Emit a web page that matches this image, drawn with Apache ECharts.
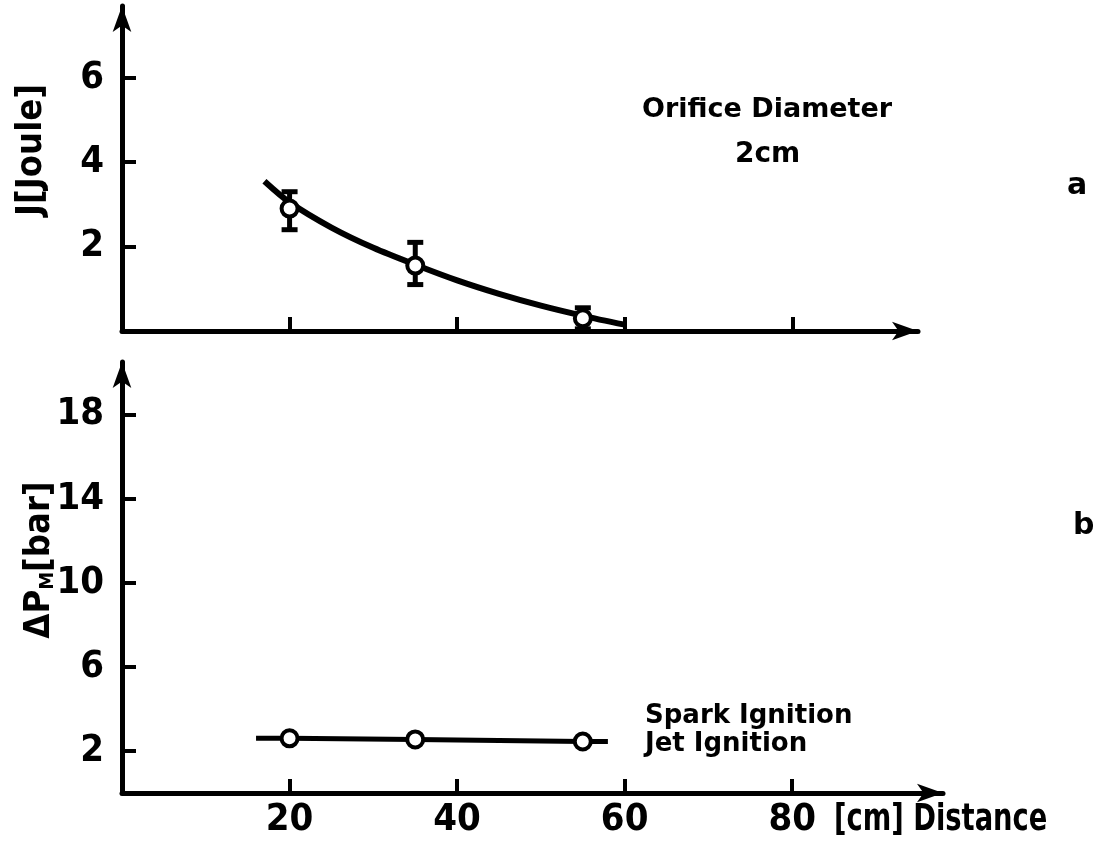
<!DOCTYPE html>
<html>
	<head>
		<meta charset="UTF-8">
		<title>Orifice Diameter 2cm</title>
		<script src="https://cdn.jsdelivr.net/npm/echarts@6/dist/echarts.min.js"></script>
		<style>
			html, body { margin: 0; padding: 0; background: #fff; }
			#chart { width: 1093px; height: 841px; }
		</style>
	</head>
	<body>
		<div id="chart"></div>
		<script>
			// 测量点 (cm)
			var distance = [20, 35, 55];
			// a: 点火能量 J (Joule) 及误差范围
			var energy = [2.9, 1.55, 0.3];
			var energyLow = [2.4, 1.1, 0.05];
			var energyHigh = [3.3, 2.1, 0.55];
			// a: 拟合曲线
			var fitX = [17, 20, 25, 30, 35, 40, 45, 50, 55, 60];
			var fitJ = [3.55, 3.05, 2.45, 1.97, 1.57, 1.2, 0.88, 0.6, 0.36, 0.15];
			// b: 压力 ΔP_M (bar)
			var pressure = [2.6, 2.55, 2.45];
			var lineX = [16, 20, 35, 55, 58];
			var lineP = [2.6, 2.6, 2.55, 2.45, 2.45];
			// 刻度
			var xTicks = [20, 40, 60, 80];
			var jTicks = [2, 4, 6];
			var pTicks = [2, 6, 10, 14, 18];

			var ink = '#000';
			var numFont = 'DejaVu Sans Condensed';

			function pairs(xs, ys) {
				return xs.map(function (x, i) { return [x, ys[i]]; });
			}

			var axisLine = {
				show: true,
				symbol: ['none', 'arrow'],
				symbolSize: [14, 26],
				lineStyle: { color: ink, width: 5 }
			};
			var tick = { show: true, inside: true, length: 14, lineStyle: { color: ink, width: 4 } };
			var numLabel = { color: ink, fontFamily: numFont, fontWeight: 'bold', fontSize: 38 };
			var marker = { color: '#fff', borderColor: ink, borderWidth: 4, opacity: 1 };

			var myChart = echarts.init(document.getElementById('chart'));

			var option = {
				animation: false,
				backgroundColor: '#fff',
				grid: [
					{ left: 122, top: 6, width: 796, height: 325 },
					{ left: 122, top: 362, width: 821, height: 431 }
				],
				xAxis: [{
					gridIndex: 0, type: 'value', min: 0, max: 95,
					axisLine: axisLine,
					axisTick: Object.assign({ customValues: xTicks }, tick),
					axisLabel: { show: false },
					splitLine: { show: false }
				}, {
					gridIndex: 1, type: 'value', min: 0, max: 98,
					axisLine: axisLine,
					axisTick: Object.assign({ customValues: xTicks }, tick),
					axisLabel: Object.assign({ customValues: xTicks, margin: 8 }, numLabel),
					splitLine: { show: false }
				}],
				yAxis: [{
					gridIndex: 0, type: 'value', min: 0, max: 7.7,
					axisLine: axisLine,
					axisTick: Object.assign({ customValues: jTicks }, tick),
					axisLabel: Object.assign({ customValues: jTicks, margin: 18 }, numLabel),
					splitLine: { show: false }
				}, {
					gridIndex: 1, type: 'value', min: 0, max: 20.5,
					axisLine: axisLine,
					axisTick: Object.assign({ customValues: pTicks }, tick),
					axisLabel: Object.assign({ customValues: pTicks, margin: 18 }, numLabel),
					splitLine: { show: false }
				}],
				series: [{
					// 拟合曲线
					type: 'line', xAxisIndex: 0, yAxisIndex: 0,
					data: pairs(fitX, fitJ),
					smooth: 0.3, showSymbol: false,
					lineStyle: { color: ink, width: 6 }
				}, {
					// 误差棒
					type: 'custom', xAxisIndex: 0, yAxisIndex: 0,
					data: distance.map(function (x, i) { return [x, energyLow[i], energyHigh[i]]; }),
					renderItem: function (params, api) {
						var lo = api.coord([api.value(0), api.value(1)]);
						var hi = api.coord([api.value(0), api.value(2)]);
						var cap = 8;
						var st = { stroke: ink, lineWidth: 5 };
						return {
							type: 'group',
							children: [
								{ type: 'line', shape: { x1: lo[0], y1: lo[1], x2: hi[0], y2: hi[1] }, style: st },
								{ type: 'line', shape: { x1: lo[0] - cap, y1: lo[1], x2: lo[0] + cap, y2: lo[1] }, style: st },
								{ type: 'line', shape: { x1: hi[0] - cap, y1: hi[1], x2: hi[0] + cap, y2: hi[1] }, style: st }
							]
						};
					},
					z: 3
				}, {
					type: 'scatter', xAxisIndex: 0, yAxisIndex: 0,
					data: pairs(distance, energy),
					symbol: 'circle', symbolSize: 16,
					itemStyle: marker,
					z: 5
				}, {
					type: 'line', xAxisIndex: 1, yAxisIndex: 1,
					data: pairs(lineX, lineP),
					showSymbol: false,
					lineStyle: { color: ink, width: 5 }
				}, {
					type: 'scatter', xAxisIndex: 1, yAxisIndex: 1,
					data: pairs(distance, pressure),
					symbol: 'circle', symbolSize: 16,
					itemStyle: marker,
					z: 5
				}],
				graphic: [{
					type: 'text', x: 32, y: 150, rotation: Math.PI / 2,
					style: { text: 'J[Joule]', fill: ink, font: 'bold 36px "DejaVu Sans Condensed"', align: 'center', verticalAlign: 'middle' }
				}, {
					type: 'text', x: 40, y: 560, rotation: Math.PI / 2,
					style: {
						text: '{a|ΔP}{s|M}{a|[bar]}',
						fill: ink, align: 'center', verticalAlign: 'middle',
						rich: {
							a: { font: 'bold 36px "DejaVu Sans Condensed"', fill: ink },
							s: { font: 'bold 20px "DejaVu Sans Condensed"', fill: ink, verticalAlign: 'bottom', padding: [14, 0, 0, 0] }
						}
					}
				}, {
					type: 'text', x: 642, y: 110,
					style: { text: 'Orifice Diameter', fill: ink, font: 'bold 27px "DejaVu Sans"', verticalAlign: 'middle' }
				}, {
					type: 'text', x: 735, y: 155,
					style: { text: '2cm', fill: ink, font: 'bold 28px "DejaVu Sans"', verticalAlign: 'middle' }
				}, {
					type: 'text', x: 1067, y: 186,
					style: { text: 'a', fill: ink, font: 'bold 30px "DejaVu Sans"', verticalAlign: 'middle' }
				}, {
					type: 'text', x: 1073, y: 526,
					style: { text: 'b', fill: ink, font: 'bold 30px "DejaVu Sans"', verticalAlign: 'middle' }
				}, {
					type: 'text', x: 645, y: 716,
					style: { text: 'Spark Ignition', fill: ink, font: 'bold 26px "DejaVu Sans"', verticalAlign: 'middle' }
				}, {
					type: 'text', x: 645, y: 744,
					style: { text: 'Jet Ignition', fill: ink, font: 'bold 26px "DejaVu Sans"', verticalAlign: 'middle' }
				}, {
					type: 'text', x: 834, y: 820, scaleX: 0.8,
					style: { text: '[cm] Distance', fill: ink, font: 'bold 38px "DejaVu Sans Condensed"', verticalAlign: 'middle' }
				}]
			};

			myChart.setOption(option);
		</script>
	</body>
</html>
